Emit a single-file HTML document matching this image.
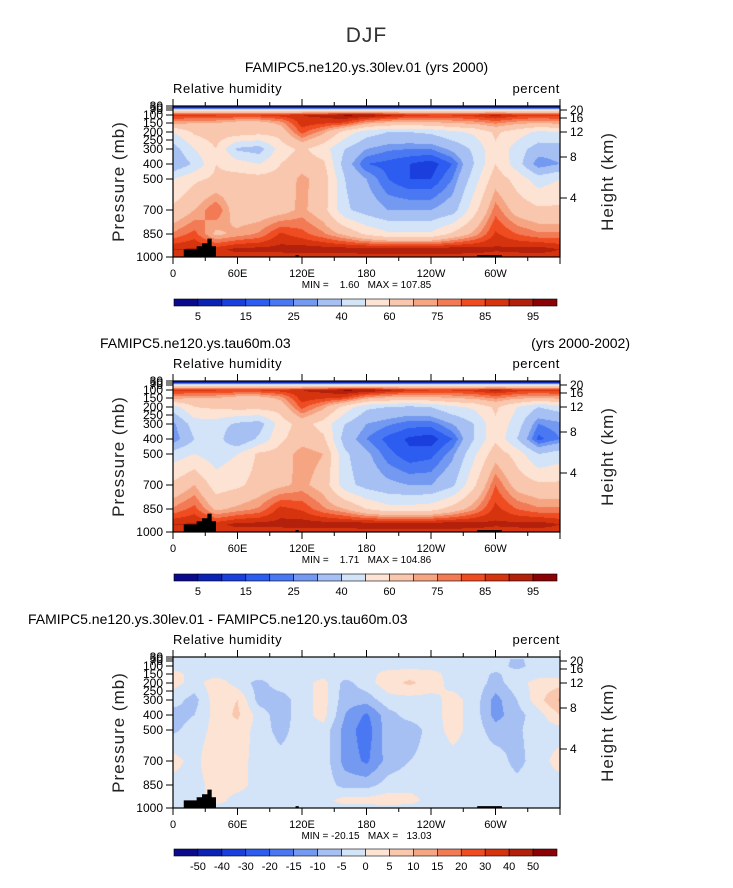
<!DOCTYPE html>
<html><head><meta charset="utf-8">
<style>
html,body{margin:0;padding:0;background:#fff;}
body{width:733px;height:888px;position:relative;overflow:hidden;font-family:"Liberation Sans",sans-serif;color:#000;}
.t{position:absolute;white-space:nowrap;}
canvas{position:absolute;}
svg{position:absolute;left:0;top:0;}
</style></head>
<body>
<div class="t" style="left:0;width:733px;text-align:center;top:24px;font-size:21px;color:#333;letter-spacing:1px;">DJF</div>
<div class="t" style="left:0;width:733px;text-align:center;top:59px;font-size:14px;">FAMIPC5.ne120.ys.30lev.01 (yrs 2000)</div>
<div class="t" style="left:100px;top:335px;font-size:14px;">FAMIPC5.ne120.ys.tau60m.03</div>
<div class="t" style="right:103px;top:335px;font-size:14px;">(yrs 2000-2002)</div>
<div class="t" style="left:28px;top:611px;font-size:14px;">FAMIPC5.ne120.ys.30lev.01 - FAMIPC5.ne120.ys.tau60m.03</div>
<canvas id="c1" width="387" height="151" style="left:173px;top:106px"></canvas>
<canvas id="c2" width="387" height="151" style="left:173px;top:381px"></canvas>
<canvas id="c3" width="387" height="151" style="left:173px;top:657px"></canvas>
<svg id="ov" width="733" height="888"></svg>
<script>
const lons=[0,20,40,60,80,100,120,140,160,180,200,220,240,260,280,300,320,340,360];
const levels=[30,50,70,100,150,200,300,400,500,700,850,950,1000];
const rh1=[
[3,3,3,3,3,3,3,3,3,3,3,3,3,3,3,3,3,3,3],
[12,12,12,12,12,12,12,12,12,12,12,12,12,12,12,12,12,12,12],
[50,50,50,50,50,50,50,50,50,50,50,50,50,50,50,50,50,50,50],
[88,86,86,86,86,88,90,92,96,96,92,88,86,86,88,92,88,86,88],
[72,70,70,66,66,72,88,86,84,72,68,66,68,70,72,76,72,70,72],
[50,62,65,66,64,64,82,72,56,45,40,40,42,48,52,62,55,48,50],
[35,50,60,38,35,55,62,54,40,30,26,25,25,32,42,58,45,35,35],
[30,42,60,55,50,60,66,62,35,20,18,15,12,20,40,60,45,25,30],
[50,58,62,64,64,64,72,66,40,30,20,15,15,25,45,66,56,45,50],
[62,70,80,64,64,66,72,64,42,35,30,30,30,35,56,78,66,62,62],
[76,82,68,72,76,86,82,76,68,58,52,52,52,62,72,86,80,76,76],
[90,91,88,92,92,92,93,93,93,94,94,94,94,94,93,91,92,93,90],
[87,87,87,87,87,87,87,87,87,87,87,87,87,87,87,87,87,87,87]];
const rh2=[
[3,3,3,3,3,3,3,3,3,3,3,3,3,3,3,3,3,3,3],
[12,12,12,12,12,12,12,12,12,12,12,12,12,12,12,12,12,12,12],
[50,50,50,50,50,50,50,50,50,50,50,50,50,50,50,50,50,50,50],
[88,86,86,86,86,88,90,92,96,96,92,88,86,86,88,92,88,86,88],
[72,70,70,66,66,72,88,86,84,72,68,66,68,70,72,76,72,70,72],
[45,60,62,64,64,64,82,72,56,42,40,38,40,48,52,62,50,40,45],
[28,45,45,38,35,55,64,56,40,30,26,22,22,30,40,58,45,25,28],
[25,40,45,30,42,58,66,62,35,25,18,14,12,20,40,58,40,18,25],
[45,50,45,50,62,64,74,70,42,32,22,16,18,28,48,66,56,40,45],
[62,70,55,58,64,68,72,66,44,36,32,30,30,38,58,80,66,62,62],
[76,82,68,72,76,87,84,76,70,60,54,54,56,64,74,87,80,76,76],
[90,91,88,92,92,92,93,93,93,94,94,94,94,94,93,91,92,93,90],
[87,87,87,87,87,87,87,87,87,87,87,87,87,87,87,87,87,87,87]];
const diff=[
[-2,-2,-2,-2,-2,-2,-2,-2,-2,-2,-2,-2,-2,-2,-2,-2,-2,-2,-2],
[-2,-3,-2,-2,-2,-2,-2,-3,-2,-2,-2,-2,-2,-2,-2,-3,-6,-3,-2],
[-2,-3,-2,-2,-2,-2,-2,-3,-2,-2,-2,-2,-2,-2,-2,-3,-6,-3,-2],
[-2,-2,-2,-2,-2,-2,-2,-2,-2,-2,-2,-2,-2,-2,-2,-2,-7,-2,-2],
[2,-2,-2,-2,-2,-3,-2,-2,-2,-2,2,3,2,-2,-2,-6,-2,-2,-2],
[2,-2,3,-2,-7,-2,-2,2,-7,-2,3,6,3,-2,-2,-7,-2,2,3],
[-3,-7,3,5,-7,-8,-2,2,-8,-8,-2,-2,-2,2,-2,-12,-5,3,11],
[-7,-5,2,6,-2,-8,-2,2,-10,-16,-7,-3,-2,2,-2,-12,-7,-2,5],
[-6,-3,2,3,-2,-7,-2,-2,-12,-18,-7,-8,-3,2,-2,-8,-6,-2,-2],
[2,-2,5,2,-2,-3,-3,-2,-12,-16,-8,-5,-3,-2,-2,-2,-7,-2,2],
[-2,-2,2,2,-2,-2,-2,-2,-7,-7,-3,-2,-2,-2,-2,-2,-3,-2,-2],
[-2,-2,2,-2,-2,-2,-2,-2,2,2,3,2,-2,-2,-2,-2,-2,-2,-2],
[-2,-2,-2,-2,-2,-2,-2,-2,-2,-2,-2,-2,-2,-2,-2,-2,-2,-2,-2]];
const rhBounds=[5,10,15,20,25,30,40,50,60,70,75,80,85,90,95];
const rhLabels=["5","15","25","40","60","75","85","95"];
const diffBounds=[-50,-40,-30,-20,-15,-10,-5,0,5,10,15,20,30,40,50];
const diffLabels=["-50","-40","-30","-20","-15","-10","-5","0","5","10","15","20","30","40","50"];
const terrain=[[10,1000],[10,950],[22,950],[22,930],[27,930],[27,910],[32,910],[32,880],[36,880],[36,930],[40,930],[40,1000]];
const terrain2=[[114,1000],[114,988],[117,988],[117,1000]];
const terrain3=[[283,1000],[283,988],[306,988],[306,1000]];
const palette=["#0a0a8c","#0b22b4","#1a3fdc","#2d5cf0","#4a78f2","#7399f0","#a6c0f4","#d3e4f9","#fde3d3","#f9c6ae","#f6a583","#f27a55","#f04c22","#d6340f","#b3200b","#8a0205"];
const pTicks=[30,50,70,100,150,200,250,300,400,500,700,850,1000];
const pTickY=[0,2,4,9,17,26,34,43,58,73,104,128,151];
const hTicks=[20,16,12,8,4];
const hTickY=[4,12,26,51,92];
const xTicks=["0","60E","120E","180","120W","60W"];

const PW=387,PH=151;
function xOf(lon){return lon/360*PW;}
function yOf(p){for(let i=0;i<pTicks.length-1;i++){if(p>=pTicks[i]&&p<=pTicks[i+1]){const f=(p-pTicks[i])/(pTicks[i+1]-pTicks[i]);return pTickY[i]+f*(pTickY[i+1]-pTickY[i]);}}return p<pTicks[0]?0:PH;}
function hexRgb(h){return [parseInt(h.substr(1,2),16),parseInt(h.substr(3,2),16),parseInt(h.substr(5,2),16)];}
const pal=palette.map(hexRgb);
function draw(id,grid,bounds){
  const cv=document.getElementById(id),ctx=cv.getContext('2d');
  const img=ctx.createImageData(PW,PH);
  const rowY=levels.map(yOf), colX=lons.map(xOf);
  for(let y=0;y<PH;y++){
    let r=0;while(r<rowY.length-2&&y+0.5>rowY[r+1])r++;
    const fy=Math.min(1,Math.max(0,(y+0.5-rowY[r])/(rowY[r+1]-rowY[r])));
    for(let x=0;x<PW;x++){
      let c=0;while(c<colX.length-2&&x+0.5>colX[c+1])c++;
      const fx=(x+0.5-colX[c])/(colX[c+1]-colX[c]);
      const v=(grid[r][c]*(1-fx)+grid[r][c+1]*fx)*(1-fy)+(grid[r+1][c]*(1-fx)+grid[r+1][c+1]*fx)*fy;
      let k=0;while(k<bounds.length&&v>=bounds[k])k++;
      const col=pal[k],o=(y*PW+x)*4;
      img.data[o]=col[0];img.data[o+1]=col[1];img.data[o+2]=col[2];img.data[o+3]=255;
    }
  }
  ctx.putImageData(img,0,0);
}
draw('c1',rh1,rhBounds);draw('c2',rh2,rhBounds);draw('c3',diff,diffBounds);

const NS='http://www.w3.org/2000/svg';
const ov=document.getElementById('ov');
function el(tag,attrs,parent){const e=document.createElementNS(NS,tag);for(const k in attrs)e.setAttribute(k,attrs[k]);(parent||ov).appendChild(e);return e;}
function txt(s,attrs,parent){const e=el('text',attrs,parent);e.textContent=s;return e;}
const panels=[{top:106,bar:299,mm:"MIN =    1.60   MAX = 107.85",bounds:rhLabels,step:2},
{top:381,bar:574,mm:"MIN =    1.71   MAX = 104.86",bounds:rhLabels,step:2},
{top:657,bar:849,mm:"MIN = -20.15   MAX =   13.03",bounds:diffLabels,step:1}];
const L=173;
panels.forEach((P,pi)=>{
  const g=el('g',{transform:`translate(${L},${P.top})`});
  
  
  [terrain,terrain2,terrain3].forEach(t=>{
    const poly=el('polygon',{points:t.map(q=>xOf(q[0])+','+yOf(q[1])).join(' '),fill:'#000'},g);
    
    
  });
  const fr=el('rect',{x:0,y:0,width:PW,height:PH,fill:'none',stroke:'#000','stroke-width':1.2},g);
  
  
  for(let lon=0;lon<=360;lon+=30){
    const x=xOf(lon),maj=lon%60==0;
    el('line',{x1:x,x2:x,y1:PH,y2:PH+(maj?7:4),stroke:'#000'},g);
    el('line',{x1:x,x2:x,y1:0,y2:maj?-7:-4,stroke:'#000'},g);
  }
  xTicks.forEach((s,i)=>{const t=txt(s,{x:xOf(i*60),y:PH+20,'font-size':11,'text-anchor':'middle'},g);
    
    });
  pTicks.forEach((p,i)=>{const y=pTickY[i];el('line',{x1:0,x2:-7,y1:y,y2:y,stroke:'#000'},g);
    const t=txt(String(p),{x:-10,y:y+4,'font-size':12,'text-anchor':'end'},g);
    
    });
  hTicks.forEach((h,i)=>{const y=hTickY[i];el('line',{x1:PW,x2:PW+7,y1:y,y2:y,stroke:'#000'},g);
    const t=txt(String(h),{x:PW+10,y:y+4,'font-size':12},g);
    
    });
  const a=txt('Relative humidity',{x:0,y:-13,'font-size':13,'letter-spacing':'0.6'},g);
  
  
  const b=txt('percent',{x:PW,y:-13,'font-size':13,'text-anchor':'end','letter-spacing':'0.6'},g);
  
  
  const yt=txt('Pressure (mb)',{x:0,y:0,'font-size':17,'text-anchor':'middle',fill:'#222',transform:`translate(-49,${PH/2}) rotate(-90)`,'letter-spacing':'1'},g);
  
  
  const ht=txt('Height (km)',{x:0,y:0,'font-size':17,'text-anchor':'middle',fill:'#222',transform:`translate(${PW+53},${PH/2}) rotate(-90)`,'letter-spacing':'1'},g);
  
  
  const mm=txt(P.mm,{x:PW/2,y:PH+31,'font-size':10,'text-anchor':'middle',style:'white-space:pre'},g);
  
  
  const cb=el('g',{transform:`translate(174,${P.bar})`});
  
  
  const bw=383/16;
  palette.forEach((c,i)=>{const r=el('rect',{x:i*bw,y:0,width:bw,height:7,fill:c,stroke:'#000','stroke-width':0.6},cb);
    
    });
  P.bounds.forEach((s,i)=>{const k=P.step==2?(2*i+1):(i+1);
    const t=txt(s,{x:k*bw,y:21,'font-size':11,'text-anchor':'middle'},cb);
    
    });
});
</script>
</body></html>
